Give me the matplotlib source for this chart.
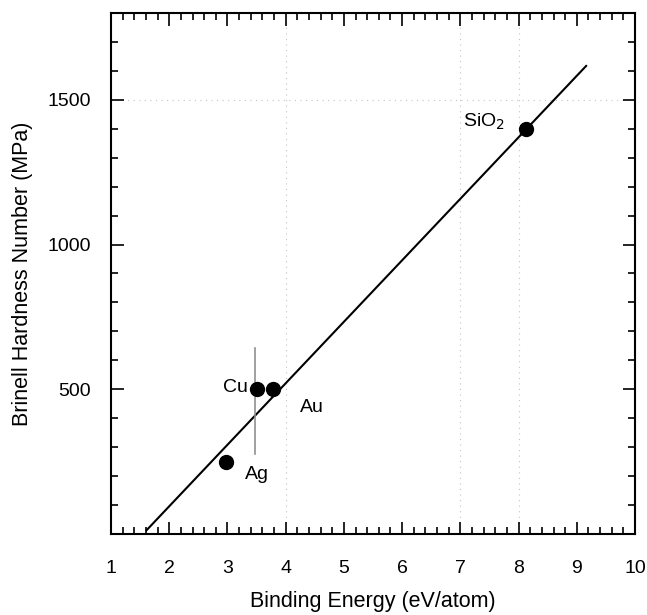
import matplotlib
matplotlib.use("Agg")
import matplotlib.pyplot as plt
from matplotlib.ticker import MultipleLocator

plt.rcParams['font.family'] = ['Liberation Sans', 'DejaVu Sans']

# data
names = ["Ag", "Cu", "Au", "SiO$_2$"]
energy = [2.97, 3.51, 3.79, 8.13]
hardness = [250, 500, 500, 1400]

# spread bar drawn on Cu
cu_bar_x = 3.48
cu_bar_lo = 277
cu_bar_hi = 641

# fitted line ends
fit_x = [1.61, 9.16]
fit_y = [13, 1617]

# where the names sit
label_x = [3.30, 3.35, 4.25, 7.77]
label_y = [205, 505, 437, 1425]
label_ha = ["left", "right", "left", "right"]

fig = plt.figure(figsize=(6.47, 6.15), dpi=100)
ax = fig.add_axes([0.1716, 0.1317, 0.8099, 0.8472])

# faint dotted grid bits
for gx in [4, 7, 8]:
    ax.axvline(gx, color="#c4c4c4", lw=0.8, ls=(0, (1, 4)), zorder=0)
ax.axhline(1500, color="#c4c4c4", lw=0.8, ls=(0, (1, 4)), zorder=0)

ax.plot(fit_x, fit_y, color="black", lw=1.5)
ax.plot([cu_bar_x, cu_bar_x], [cu_bar_lo, cu_bar_hi], color="#909090", lw=1.2)
ax.plot(energy, hardness, "o", color="black", ms=10)

for i in range(len(names)):
    ax.text(label_x[i], label_y[i], names[i], fontsize=14, ha=label_ha[i], va="center")

ax.set_xlim(1, 10)
ax.set_ylim(0, 1800)
ax.xaxis.set_major_locator(MultipleLocator(1))
ax.xaxis.set_minor_locator(MultipleLocator(0.2))
ax.set_yticks([500, 1000, 1500])
ax.yaxis.set_minor_locator(MultipleLocator(100))
ax.tick_params(which="both", direction="in", top=True, right=True, width=1.2)
ax.tick_params(which="major", length=9, labelsize=14)
ax.tick_params(which="minor", length=5)
ax.tick_params(axis="x", which="major", pad=19)
ax.tick_params(axis="y", which="major", pad=14.5)
for s in ax.spines.values():
    s.set_linewidth(1.5)

ax.set_xlabel("Binding Energy (eV/atom)", fontsize=15.5, labelpad=9.5)
ax.set_ylabel("Brinell Hardness Number (MPa)", fontsize=15.5, labelpad=10)

fig.savefig("out.png", dpi=100)
